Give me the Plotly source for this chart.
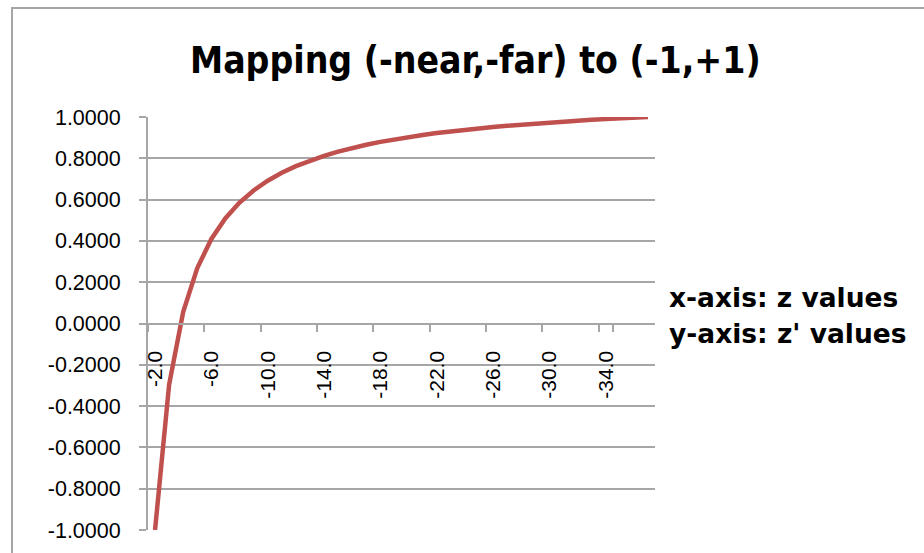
import plotly.graph_objects as go

z_labels = ["-2.0", "-3.0", "-4.0", "-5.0", "-6.0", "-7.0", "-8.0", "-9.0", "-10.0",
            "-11.0", "-12.0", "-13.0", "-14.0", "-15.0", "-16.0", "-17.0", "-18.0",
            "-19.0", "-20.0", "-21.0", "-22.0", "-23.0", "-24.0", "-25.0", "-26.0",
            "-27.0", "-28.0", "-29.0", "-30.0", "-31.0", "-32.0", "-33.0", "-34.0",
            "-35.0", "-36.0", "-37.0"]
z_prime = [-1.0000, -0.2952, 0.0571, 0.2686, 0.4095, 0.5102, 0.5857, 0.6444, 0.6914,
           0.7299, 0.7619, 0.7890, 0.8122, 0.8324, 0.8500, 0.8655, 0.8794, 0.8917,
           0.9029, 0.9129, 0.9221, 0.9304, 0.9381, 0.9451, 0.9516, 0.9577, 0.9633,
           0.9685, 0.9733, 0.9779, 0.9821, 0.9862, 0.9899, 0.9935, 0.9968, 1.0000]
x_tick_labels = ["-2.0", "-6.0", "-10.0", "-14.0", "-18.0", "-22.0", "-26.0", "-30.0", "-34.0"]
y_tick_values = [-1.0, -0.8, -0.6, -0.4, -0.2, 0.0, 0.2, 0.4, 0.6, 0.8, 1.0]
y_tick_labels = ["-1.0000", "-0.8000", "-0.6000", "-0.4000", "-0.2000", "0.0000",
                 "0.2000", "0.4000", "0.6000", "0.8000", "1.0000"]
title_text = "Mapping (-near,-far) to (-1,+1)"
note_lines = ["x-axis: z values", "y-axis: z' values"]

W, H = 924, 553
L, R, T, B = 148, 655, 117, 530


def px(x):
    return (x - L) / (R - L)


def py(y):
    return (B - y) / (B - T)


fig = go.Figure()
fig.add_trace(go.Scatter(x=z_labels, y=z_prime, mode="lines",
                         line=dict(color="#C0504D", width=4.5), showlegend=False))

grid = "#a6a6a6"
fig.update_layout(
    width=W, height=H,
    margin=dict(l=L, r=W - R, t=T, b=H - B, pad=0, autoexpand=False),
    paper_bgcolor="white", plot_bgcolor="white",
    font=dict(family="Liberation Sans, Arial, sans-serif", size=21, color="black"),
    xaxis=dict(type="category", anchor="free", position=0.5, automargin=False,
               range=[-0.5, len(z_labels) - 0.5],
               tickmode="array", tickvals=x_tick_labels, ticktext=x_tick_labels,
               tickson="boundaries", ticks="outside", ticklen=7, tickwidth=2,
               tickcolor=grid, tickangle=-90, ticklabelstandoff=18,
               showline=True, linecolor=grid, linewidth=2,
               showgrid=False, zeroline=False,
               tickfont=dict(size=21)),
    yaxis=dict(range=[-1, 1], tickmode="array", tickvals=y_tick_values, ticktext=y_tick_labels,
               automargin=False,
               showline=True, linecolor=grid, linewidth=2,
               ticks="outside", ticklen=7, tickwidth=2, tickcolor=grid, ticklabelstandoff=14,
               showgrid=True, gridcolor=grid, gridwidth=2, zeroline=False,
               tickfont=dict(size=21.5)),
)

fig.add_annotation(text="<b>" + title_text + "</b>", xref="paper", yref="paper",
                   x=px(475), y=py(61),
                   xanchor="center", yanchor="middle", showarrow=False,
                   font=dict(family="Liberation Sans Narrow, DejaVu Sans Condensed, sans-serif", size=37))
for line_text, yc in zip(note_lines, [297, 333]):
    fig.add_annotation(text="<b>" + line_text + "</b>", xref="paper", yref="paper",
                       x=px(667), y=py(yc),
                       xanchor="left", yanchor="middle", align="left", showarrow=False,
                       font=dict(family="DejaVu Sans, sans-serif", size=26.5))
fig.add_shape(type="rect", xref="paper", yref="paper",
              x0=px(12), x1=px(1000), y0=py(600), y1=py(8),
              line=dict(color="#a6a6a6", width=2), fillcolor="rgba(0,0,0,0)", layer="below")

fig.write_html("out.html", config={"displayModeBar": False},
               post_script="document.body.style.margin='0';document.body.style.overflow='hidden';")
